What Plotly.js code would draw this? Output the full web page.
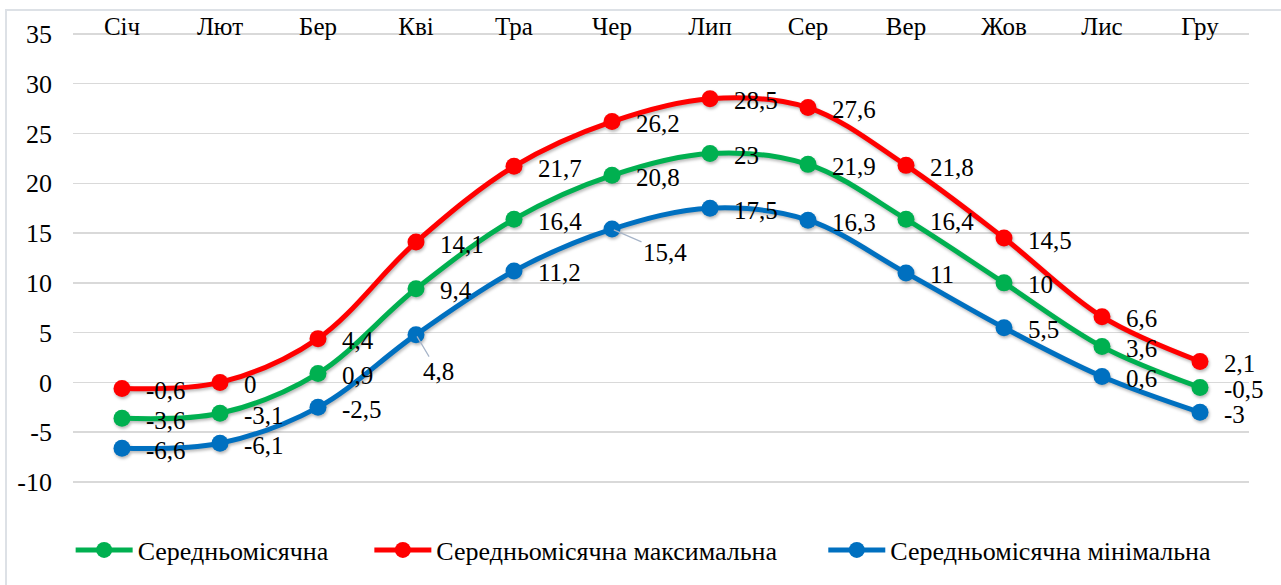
<!DOCTYPE html>
<html>
<head>
<meta charset="utf-8">
<script src="https://cdn.plot.ly/plotly-3.0.1.min.js"></script>
<style>
  body { margin: 0; background: #fff; overflow: hidden; }
  #chart { width: 1281px; height: 585px; }
  #frame { position: absolute; left: 5px; top: 9px; right: 0; bottom: 0;
           border-top: 2px solid #dde1e6; border-left: 2px solid #dde1e6; pointer-events: none; }
  #chart .scatterlayer .trace { filter: drop-shadow(1px 2px 1.5px rgba(0, 0, 0, 0.28)); }
</style>
</head>
<body>
<div id="chart"></div>
<div id="frame"></div>
<script>
const months = ["Січ", "Лют", "Бер", "Кві", "Тра", "Чер", "Лип", "Сер", "Вер", "Жов", "Лис", "Гру"];
const avgTemp = [-3.6, -3.1, 0.9, 9.4, 16.4, 20.8, 23, 21.9, 16.4, 10, 3.6, -0.5];
const maxTemp = [-0.6, 0, 4.4, 14.1, 21.7, 26.2, 28.5, 27.6, 21.8, 14.5, 6.6, 2.1];
const minTemp = [-6.6, -6.1, -2.5, 4.8, 11.2, 15.4, 17.5, 16.3, 11, 5.5, 0.6, -3];
const yTicks = [-10, -5, 0, 5, 10, 15, 20, 25, 30, 35];

const FONT = "'Liberation Serif', 'Times New Roman', serif";

const series = [
  { name: "Середньомісячна", values: avgTemp, color: "#00B050", legend: "legend", lx: -0.002 },
  { name: "Середньомісячна максимальна", values: maxTemp, color: "#FF0000", legend: "legend2", lx: 0.252 },
  { name: "Середньомісячна мінімальна", values: minTemp, color: "#0070C0", legend: "legend3", lx: 0.638 }
];

// labels that were dragged off with a leader line
const leaders = { "2-3": [22, 37], "2-5": [53, 23] };

const fmt = v => String(v).replace(".", ",");

const traces = series.map(s => ({
  type: "scatter",
  mode: "lines+markers",
  name: s.name,
  legend: s.legend,
  x: months,
  y: s.values,
  line: { color: s.color, width: 5, shape: "spline", smoothing: 1 },
  marker: { color: s.color, size: 17 },
  hoverinfo: "skip"
}));

const annotations = [];
series.forEach((s, si) => {
  s.values.forEach((v, i) => {
    const key = si + "-" + i;
    const a = {
      x: months[i], y: v, xref: "x", yref: "y",
      text: fmt(v),
      font: { family: FONT, size: 25, color: "#000" }
    };
    if (leaders[key]) {
      Object.assign(a, {
        showarrow: true, arrowhead: 0, arrowwidth: 1.2, arrowcolor: "#a6b4c8",
        ax: leaders[key][0], ay: leaders[key][1], standoff: 2
      });
    } else {
      Object.assign(a, { showarrow: false, xanchor: "left", yanchor: "middle", xshift: 22, yshift: -2 });
    }
    annotations.push(a);
  });
});

const layout = {
  width: 1281, height: 585,
  margin: { l: 73, r: 32, t: 17, b: 98 },
  paper_bgcolor: "rgba(0,0,0,0)", plot_bgcolor: "rgba(0,0,0,0)",
  showlegend: true,
  xaxis: {
    type: "category", range: [-0.5, 11.5], side: "top",
    ticks: "", ticklabelstandoff: -24,
    showgrid: false, showline: false, zeroline: false,
    tickfont: { family: FONT, size: 25, color: "#000" }
  },
  yaxis: {
    range: [-10.5, 36.7], tickvals: yTicks, ticktext: yTicks.map(String),
    showgrid: true, gridcolor: "#d9d9d9", gridwidth: 1.5,
    zeroline: false, showline: false, ticks: "", ticklabelstandoff: 20,
    tickfont: { family: FONT, size: 26, color: "#000" }
  },
  annotations: annotations
};

series.forEach(s => {
  layout[s.legend] = {
    orientation: "h", x: s.lx, xanchor: "left", y: -0.134, yanchor: "middle",
    bgcolor: "rgba(0,0,0,0)",
    font: { family: FONT, size: 26, color: "#000" }, itemwidth: 57
  };
});

Plotly.newPlot("chart", traces, layout, { displayModeBar: false, staticPlot: true });
</script>
</body>
</html>
